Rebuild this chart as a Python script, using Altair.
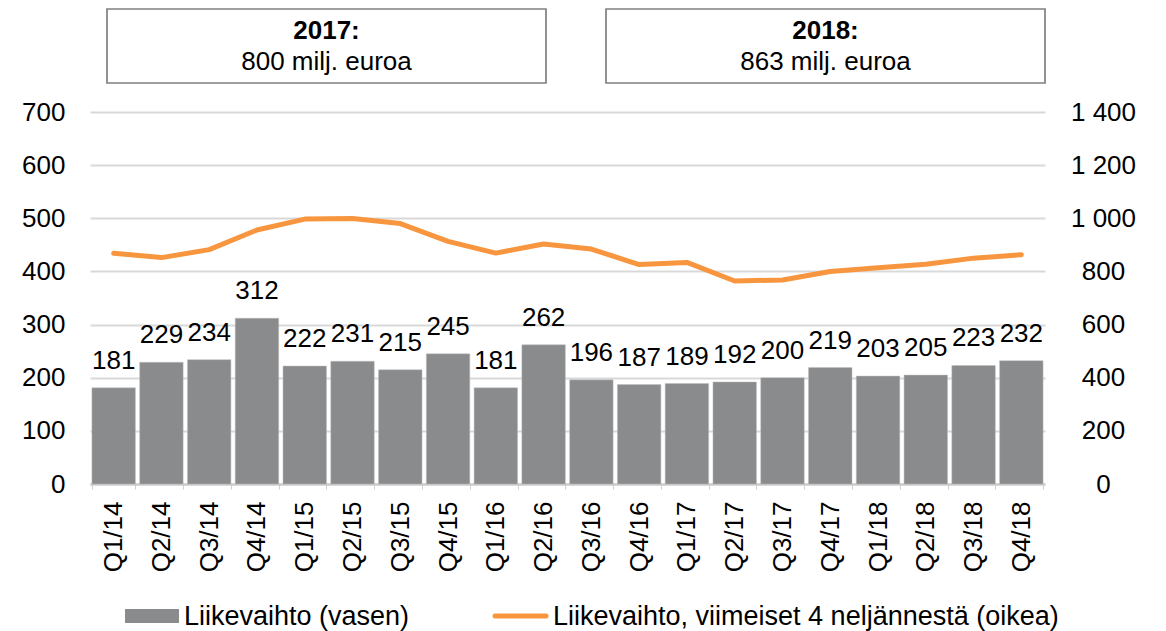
import altair as alt
import pandas as pd

quarters = ["Q1/14", "Q2/14", "Q3/14", "Q4/14", "Q1/15", "Q2/15", "Q3/15", "Q4/15",
            "Q1/16", "Q2/16", "Q3/16", "Q4/16", "Q1/17", "Q2/17", "Q3/17", "Q4/17",
            "Q1/18", "Q2/18", "Q3/18", "Q4/18"]
revenue = [181, 229, 234, 312, 222, 231, 215, 245, 181, 262, 196, 187, 189, 192, 200, 219,
           203, 205, 223, 232]
rolling4 = [868, 852, 882, 956, 997, 999, 980, 913, 869, 903, 884, 826, 834, 764, 768, 800,
            814, 827, 850, 863]

box_titles = ["2017:", "2018:"]
box_texts = ["800 milj. euroa", "863 milj. euroa"]
legend_labels = ["Liikevaihto (vasen)", "Liikevaihto, viimeiset 4 neljännestä (oikea)"]

FONT = "Liberation Sans"
FS = 26
GRAY = "#8a8b8d"
ORANGE = "#f7963f"

df = pd.DataFrame({"q": quarters, "rev": revenue, "roll": rolling4})

x_axis = alt.Axis(labelAngle=-90, labelFontSize=FS, labelPadding=12,
                  labelColor="black", labelFont=FONT, domain=True,
                  domainColor="#c8c8c8", domainWidth=2, ticks=True,
                  tickBand="extent", tickColor="#d0d0d0", tickSize=5, grid=False,
                  labelAlign="right", labelBaseline="middle")
x_scale = alt.Scale(paddingInner=0.09, paddingOuter=0.04)
y_axis = alt.Axis(values=[0, 100, 200, 300, 400, 500, 600, 700], domain=False,
                  ticks=False, labelFontSize=FS, labelPadding=25, grid=True,
                  labelColor="black", labelFont=FONT, gridColor="#d9d9d9",
                  gridWidth=2, orient="left")
y_scale = alt.Scale(domain=[0, 700])


def xenc():
    return alt.X("q:N", sort=quarters, title=None, scale=x_scale, axis=x_axis)


bars = alt.Chart(df).mark_bar(color=GRAY, stroke="#bfbfbf", strokeWidth=0.5).encode(
    x=xenc(),
    y=alt.Y("rev:Q", title=None, scale=y_scale, axis=y_axis),
)
labels = alt.Chart(df).mark_text(fontSize=FS, font=FONT, color="black", dy=-27,
                                  baseline="middle").encode(
    x=xenc(),
    y=alt.Y("rev:Q", title=None, scale=y_scale, axis=y_axis),
    text="rev:Q",
)
left = alt.layer(bars, labels)

line = alt.Chart(df).mark_line(color=ORANGE, strokeWidth=5, strokeCap="round",
                               strokeJoin="round").encode(
    x=xenc(),
    y=alt.Y("roll:Q", title=None, scale=alt.Scale(domain=[0, 1400]),
            axis=alt.Axis(orient="right", values=[0, 200, 400, 600, 800, 1000, 1200, 1400],
                          grid=False, domain=False, ticks=False, labelFontSize=FS,
                          labelAlign="center", labelPadding=58, labelColor="black",
                          labelFont=FONT,
                          labelExpr="replace(datum.label, ',', ' ')"))
)

main = alt.layer(left, line).resolve_scale(y="independent")

one = pd.DataFrame({"a": [0]})


def box(x1, x2, title, sub):
    r = alt.Chart(one).mark_rect(fill="white", stroke="#808080", strokeWidth=1.7).encode(
        x=alt.value(x1), x2=alt.value(x2), y=alt.value(-103), y2=alt.value(-29))
    t1 = alt.Chart(one).mark_text(text=title, fontSize=FS, fontWeight="bold", font=FONT,
                                  color="black", align="center", baseline="middle").encode(
        x=alt.value((x1 + x2) / 2), y=alt.value(-81))
    t2 = alt.Chart(one).mark_text(text=sub, fontSize=FS, font=FONT, color="black",
                                  align="center", baseline="middle").encode(
        x=alt.value((x1 + x2) / 2), y=alt.value(-50))
    return [r, t1, t2]


decor = box(17, 456, box_titles[0], box_texts[0]) + box(516, 955, box_titles[1], box_texts[1])

LFS = 27
leg_rect = alt.Chart(one).mark_rect(color=GRAY).encode(
    x=alt.value(35), x2=alt.value(89), y=alt.value(497), y2=alt.value(511))
leg_t1 = alt.Chart(one).mark_text(text=legend_labels[0], fontSize=LFS, font=FONT,
                                  color="black", align="left", baseline="alphabetic").encode(
    x=alt.value(94), y=alt.value(513))
leg_line = alt.Chart(one).mark_rule(color=ORANGE, strokeWidth=5, strokeCap="round").encode(
    x=alt.value(405), x2=alt.value(456), y=alt.value(504))
leg_t2 = alt.Chart(one).mark_text(text=legend_labels[1], fontSize=LFS, font=FONT,
                                  color="black", align="left", baseline="alphabetic").encode(
    x=alt.value(463), y=alt.value(513))

chart = alt.layer(main, *decor, leg_rect, leg_t1, leg_line, leg_t2).properties(
    width=955, height=372,
    autosize=alt.AutoSizeParams(type="none"),
    padding={"left": 82, "top": 104, "right": 110, "bottom": 147},
    view=alt.ViewBackground(stroke="transparent", strokeWidth=0),
).configure_view(stroke="transparent", strokeWidth=0).configure_axisY(
    domain=False).configure(background="white")

chart.save("out.html", embed_options={"renderer": "svg", "actions": False})
